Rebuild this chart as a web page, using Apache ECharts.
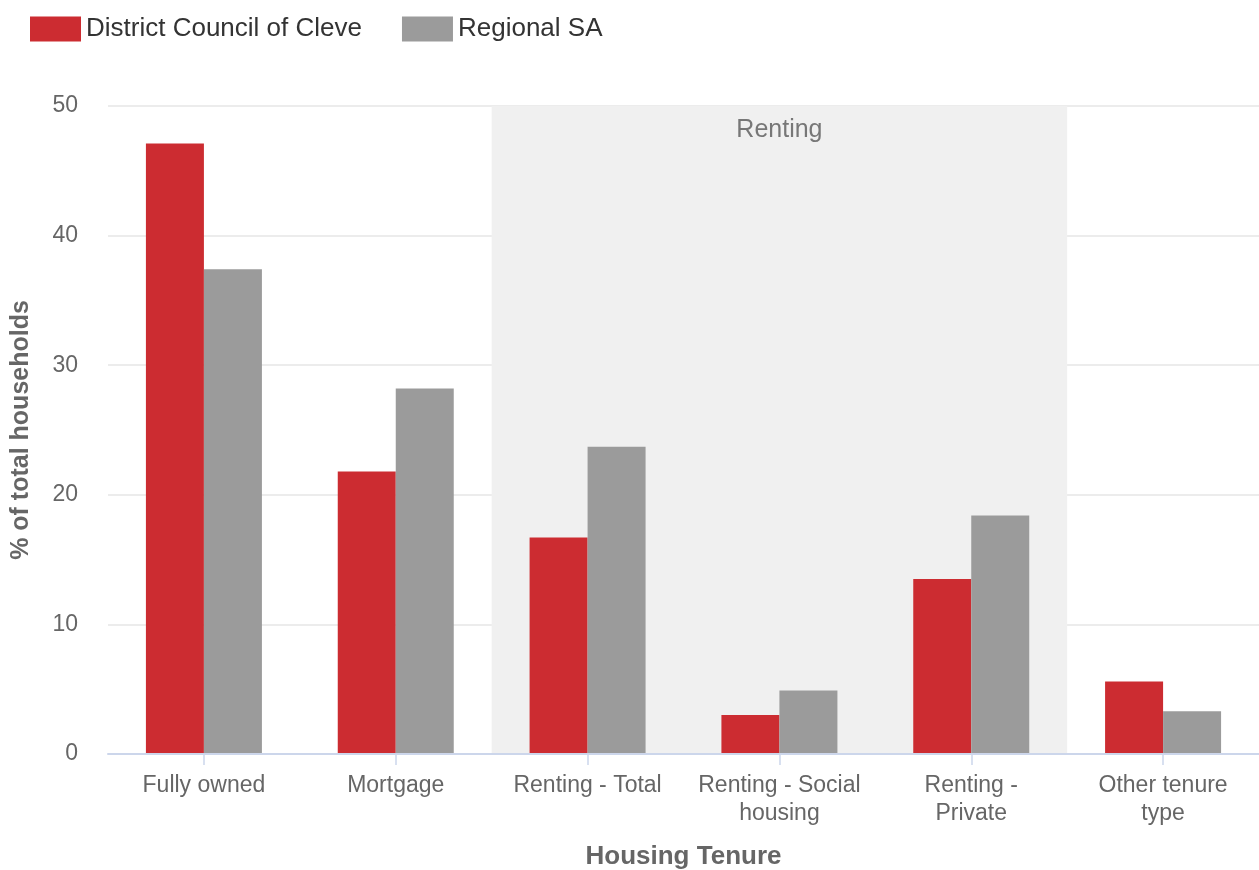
<!DOCTYPE html>
<html><head><meta charset="utf-8">
<script src="https://cdn.jsdelivr.net/npm/echarts@6/dist/echarts.min.js"></script>
<style>html,body{margin:0;padding:0;background:#fff}#c{width:1259px;height:870px}</style>
</head><body><div id="c"></div>
<script>
const categories = ['Fully owned', 'Mortgage', 'Renting - Total', 'Renting - Social\nhousing', 'Renting -\nPrivate', 'Other tenure\ntype'];
const cleve = [47.1, 21.8, 16.7, 3.0, 13.5, 5.6];
const regionalSA = [37.4, 28.2, 23.7, 4.9, 18.4, 3.3];
const seriesNames = ['District Council of Cleve', 'Regional SA'];
const yTicks = [0, 10, 20, 30, 40, 50];
const bandLabel = 'Renting';
const bandRange = [2, 5];

const font = '"Liberation Sans", Arial, sans-serif';
const chart = echarts.init(document.getElementById('c'), null, {renderer: 'canvas'});
chart.setOption({
  animation: false,
  textStyle: {fontFamily: font},
  legend: {
    left: 25, top: 11, itemWidth: 51, itemHeight: 25, itemGap: 40,
    icon: 'rect',
    textStyle: {fontSize: 26, color: '#333', fontFamily: font},
    data: seriesNames
  },
  grid: {left: 108, right: 0, top: 106, bottom: 116, containLabel: false, outerBoundsMode: 'none'},
  xAxis: [{
    type: 'category', data: categories, z: 10,
    axisLine: {lineStyle: {color: '#ccd6eb', width: 2}},
    axisTick: {show: true, alignWithLabel: true, length: 11, lineStyle: {color: '#ccd6eb', width: 1.5}},
    axisLabel: {fontSize: 23, color: '#666', lineHeight: 28, margin: 18, fontFamily: font, interval: 0},
    name: 'Housing Tenure', nameLocation: 'middle', nameGap: 90,
    nameTextStyle: {fontSize: 26, fontWeight: 'bold', color: '#666', fontFamily: font}
  }, {
    type: 'value', min: 0, max: 6, show: false
  }],
  yAxis: {
    type: 'value', min: yTicks[0], max: yTicks[yTicks.length - 1], interval: 10,
    axisLine: {show: false}, axisTick: {show: false},
    splitLine: {lineStyle: {color: '#e6e6e6', width: 1.5}},
    axisLabel: {fontSize: 23, color: '#666', margin: 30, fontFamily: font},
    name: '% of total households', nameLocation: 'middle', nameGap: 74, nameRotate: 90,
    nameTextStyle: {fontSize: 25, fontWeight: 'bold', color: '#666', fontFamily: font}
  },
  series: [{
    type: 'line', xAxisIndex: 1, data: [], silent: true, z: -1,
    markArea: {
      silent: true,
      itemStyle: {color: '#f0f0f0'},
      label: {show: true, position: 'insideTop', distance: 12, color: '#777', fontSize: 25, fontFamily: font, formatter: bandLabel},
      data: [[{xAxis: bandRange[0]}, {xAxis: bandRange[1]}]]
    }
  }, {
    name: seriesNames[0], type: 'bar', data: cleve, barWidth: 58, barGap: '0%',
    itemStyle: {color: '#cc2c31'}
  }, {
    name: seriesNames[1], type: 'bar', data: regionalSA, barWidth: 58,
    itemStyle: {color: '#9b9b9b'}
  }]
});
</script></body></html>
